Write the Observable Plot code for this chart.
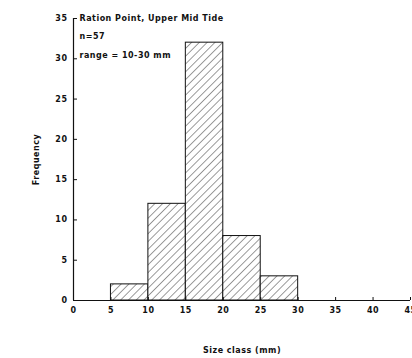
<!DOCTYPE html>
<html><head><meta charset="utf-8">
<script src="https://cdn.jsdelivr.net/npm/d3@7"></script>
<script src="https://cdn.jsdelivr.net/npm/@observablehq/plot@0.6"></script>
<style>
body{margin:0;background:#fff;}
svg{font-family:"DejaVu Sans",sans-serif;}
</style>
</head><body>
<div id="chart"></div>
<script>
const binStart = [5, 10, 15, 20, 25];
const binEnd = [10, 15, 20, 25, 30];
const counts = [2, 12, 32, 8, 3];
const xTicks = [0, 5, 10, 15, 20, 25, 30, 35, 40, 45];
const yTicks = [0, 5, 10, 15, 20, 25, 30, 35];
const title = "Ration Point, Upper Mid Tide";
const notes = ["n=57", "range = 10-30 mm"];

const bins = binStart.map((s, i) => ({x1: s, x2: binEnd[i], y: counts[i]}));

const chart = Plot.plot({
  width: 412, height: 358,
  marginLeft: 73, marginRight: 2, marginTop: 18, marginBottom: 58,
  style: {fontSize: "8px", fontWeight: "bold", color: "#111", background: "#fff", letterSpacing: "0.5px"},
  x: {domain: [0, 45], label: null},
  y: {domain: [0, 35], label: null},
  marks: [
    Plot.rectY(bins, {x1: "x1", x2: "x2", y: "y", fill: "url(#hatch)", stroke: "#111", strokeWidth: 1}),
    Plot.ruleY([0], {stroke: "#111", strokeWidth: 1.2}),
    Plot.ruleX([0], {stroke: "#111", strokeWidth: 1.2}),
    Plot.text([title], {frameAnchor: "top-left", dx: 6, dy: -3, textAnchor: "start", fontSize: 8, fontWeight: "bold"}),
    Plot.text([notes[0]], {frameAnchor: "top-left", dx: 6, dy: 15, textAnchor: "start", fontSize: 8, fontWeight: "bold"}),
    Plot.text([notes[1]], {frameAnchor: "top-left", dx: 6, dy: 34, textAnchor: "start", fontSize: 8, fontWeight: "bold"}),
    Plot.axisX({ticks: xTicks, tickSize: -3, tickPadding: 10, label: "Size class (mm)", labelAnchor: "center", labelOffset: 52, labelArrow: "none"}),
    Plot.axisY({ticks: yTicks, tickSize: -4, tickPadding: 10, label: "Frequency", labelAnchor: "center", labelOffset: 40, labelArrow: "none", fontWeight: "bold"})
  ]
});

const ns = "http://www.w3.org/2000/svg";
const defs = document.createElementNS(ns, "defs");
const pat = document.createElementNS(ns, "pattern");
pat.setAttribute("id", "hatch");
pat.setAttribute("patternUnits", "userSpaceOnUse");
pat.setAttribute("width", "5.5");
pat.setAttribute("height", "5.5");
pat.setAttribute("patternTransform", "rotate(45)");
const bg = document.createElementNS(ns, "rect");
bg.setAttribute("width", "5.5"); bg.setAttribute("height", "5.5"); bg.setAttribute("fill", "#fff");
const ln = document.createElementNS(ns, "line");
ln.setAttribute("x1", "0"); ln.setAttribute("y1", "0"); ln.setAttribute("x2", "0"); ln.setAttribute("y2", "5.5");
ln.setAttribute("stroke", "#222"); ln.setAttribute("stroke-width", "0.9");
pat.appendChild(bg); pat.appendChild(ln); defs.appendChild(pat);
chart.insertBefore(defs, chart.firstChild);
document.getElementById("chart").appendChild(chart);
</script>
</body></html>
